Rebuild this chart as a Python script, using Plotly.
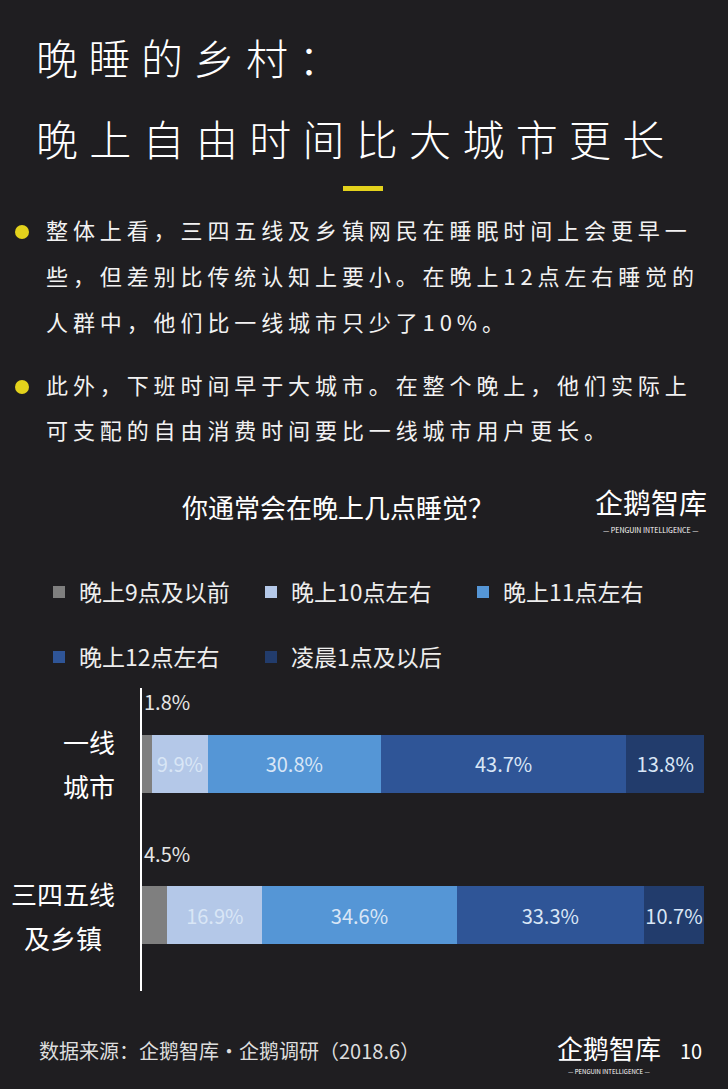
import json
import plotly.graph_objects as go

# ---------------- data ----------------
categories = ["一线城市", "三四五线及乡镇"]
category_label_lines = [["一线", "城市"], ["三四五线", "及乡镇"]]
series_names = ["晚上9点及以前", "晚上10点左右", "晚上11点左右", "晚上12点左右", "凌晨1点及以后"]
v_9pm_before = [1.8, 4.5]
v_10pm = [9.9, 16.9]
v_11pm = [30.8, 34.6]
v_12am = [43.7, 33.3]
v_1am_after = [13.8, 10.7]
series_values = [v_9pm_before, v_10pm, v_11pm, v_12am, v_1am_after]
series_colors = ["#7f7f7f", "#b4c8e8", "#5596d6", "#2f5597", "#223c6c"]

title_lines = ["晚睡的乡村：", "晚上自由时间比大城市更长"]
bullet_paragraphs = [
    ["整体上看，三四五线及乡镇网民在睡眠时间上会更早一",
     "些，但差别比传统认知上要小。在晚上12点左右睡觉的",
     "人群中，他们比一线城市只少了10%。"],
    ["此外，下班时间早于大城市。在整个晚上，他们实际上",
     "可支配的自由消费时间要比一线城市用户更长。"],
]
chart_title = "你通常会在晚上几点睡觉？"
source_text = "数据来源：企鹅智库·企鹅调研（2018.6）"
brand = "企鹅智库"
brand_sub = "— PENGUIN INTELLIGENCE —"
page_no = "10"

# ---------------- layout geometry ----------------
W, H = 728, 1089
PL, PR, PT, PB = 142, 704, 688, 991
BG = "#1f1e21"
FONT = "Noto Sans CJK SC"
YELLOW = "#e3d21c"

# legend slots: (left x px, centre y px) for each series
legend_slots = [(39, 592), (251, 592), (463, 592), (39, 657), (251, 657)]


def px(x):
    return (x - PL) / (PR - PL)


def py(y):
    return (PB - y) / (PB - PT)


fig = go.Figure()
for i, (name, vals, col) in enumerate(zip(series_names, series_values, series_colors)):
    fig.add_trace(go.Bar(
        y=categories, x=vals, orientation="h", name=name,
        marker=dict(color=col, line=dict(width=0)),
        text=vals, texttemplate="%{x}%",
        textposition="none" if i == 0 else "inside",
        insidetextanchor="middle", constraintext="none", textangle=0,
        textfont=dict(family=FONT, size=20, color="#d9e6f6"),
        legend="legend" if i == 0 else f"legend{i + 1}",
        hoverinfo="skip",
    ))

annotations = []
spacing = {}


def add_text(text, x, y, size, color="#ffffff", xanchor="left", letter=None, weight=None):
    font = dict(family=FONT, size=size, color=color)
    if weight:
        font["weight"] = weight
    annotations.append(dict(
        text=text, x=px(x), y=py(y), xref="paper", yref="paper",
        xanchor=xanchor, yanchor="middle", showarrow=False,
        align="left" if xanchor == "left" else "center", font=font,
    ))
    if letter:
        spacing[len(annotations) - 1] = letter


# title
add_text(title_lines[0], 34, 56, 42, letter=10.5, weight=300)
add_text(title_lines[1], 34, 137, 42, letter=11.3, weight=300)

# bullet paragraphs
bullet_y = [[229, 275, 321], [384, 429]]
for lines, ys in zip(bullet_paragraphs, bullet_y):
    for line, yy in zip(lines, ys):
        add_text(line, 44, yy, 22, color="#f2f2f2", letter=4.9)

# chart title and logos
add_text(chart_title, 338, 506, 26, xanchor="center")
add_text(brand, 651, 502, 28, xanchor="center")
add_text(brand_sub, 651, 530, 7, xanchor="center")
add_text(source_text, 37, 1050, 20, color="#dddddd")
add_text(brand, 609, 1047, 26, xanchor="center")
add_text(brand_sub, 609, 1071, 6, xanchor="center")
add_text(page_no, 691, 1050, 20, xanchor="center")

# category labels (two lines each, block right edge at x=115)
for cat, lines in zip(categories, category_label_lines):
    width = max(len(l) for l in lines) * 26
    cx = px(115 - width / 2)
    n = len(lines)
    for k, line in enumerate(lines):
        annotations.append(dict(
            text=line, x=cx, y=cat, xref="paper", yref="y",
            xanchor="center", yanchor="middle", showarrow=False,
            yshift=(n - 1) * 22 - k * 44,
            font=dict(family=FONT, size=26, color="#ffffff"),
        ))

# small first-segment labels above the bars
for cat, v in zip(categories, v_9pm_before):
    annotations.append(dict(
        text=f"{v}%", x=0, y=cat, xref="x", yref="y",
        xanchor="left", yanchor="middle", showarrow=False, yshift=62,
        font=dict(family=FONT, size=20, color="#e6e6e6"),
    ))

shapes = [
    dict(type="rect", xref="paper", yref="paper", x0=px(343), x1=px(383),
         y0=py(191), y1=py(186), fillcolor=YELLOW, line=dict(width=0)),
    dict(type="circle", xref="paper", yref="paper", x0=px(15), x1=px(29),
         y0=py(239), y1=py(225), fillcolor=YELLOW, line=dict(width=0)),
    dict(type="circle", xref="paper", yref="paper", x0=px(15), x1=px(29),
         y0=py(394), y1=py(380), fillcolor=YELLOW, line=dict(width=0)),
]

legend_common = dict(
    orientation="h", xanchor="left", yanchor="middle",
    font=dict(family=FONT, size=23, color="#eeeeee"),
    bgcolor="rgba(0,0,0,0)", itemclick=False, itemdoubleclick=False,
)
legends = {}
for i, (lx, ly) in enumerate(legend_slots):
    key = "legend" if i == 0 else f"legend{i + 1}"
    legends[key] = dict(x=px(lx), y=py(ly), **legend_common)

fig.update_layout(
    width=W, height=H,
    margin=dict(l=PL, r=W - PR, t=PT, b=H - PB),
    paper_bgcolor=BG, plot_bgcolor=BG,
    barmode="stack", bargap=0.617,
    showlegend=True,
    xaxis=dict(range=[0, 100], showgrid=False, zeroline=False,
               showticklabels=False, ticks="", fixedrange=True),
    yaxis=dict(type="category", range=[1.5, -0.5], showgrid=False,
               zeroline=False, showticklabels=False, ticks="",
               showline=True, linecolor="#ffffff", linewidth=1.5,
               fixedrange=True),
    annotations=annotations,
    shapes=shapes,
    font=dict(family=FONT, color="#ffffff"),
    **legends,
)

post = """
document.body.style.margin = '0';
document.body.style.background = '%s';
var sp = %s;
var gd = document.getElementById('{plot_id}');
Object.keys(sp).forEach(function(k){
  var t = gd.querySelector('g.annotation[data-index="' + k + '"] text.annotation-text');
  if (t) { t.style.letterSpacing = sp[k] + 'px'; }
});
""" % (BG, json.dumps(spacing))

fig.write_html("out.html", post_script=post, config={"displayModeBar": False})
